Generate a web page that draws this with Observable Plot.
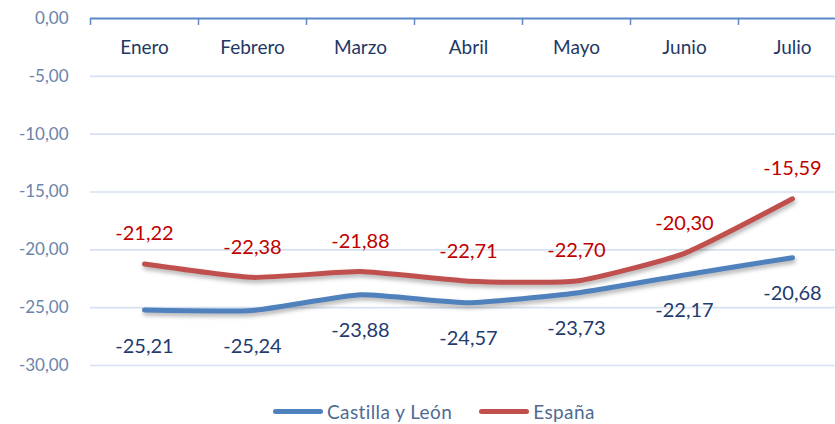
<!DOCTYPE html>
<html>
<head>
<meta charset="utf-8">
<script src="https://cdn.jsdelivr.net/npm/d3@7"></script>
<script src="https://cdn.jsdelivr.net/npm/@observablehq/plot@0.6"></script>
<style>
  html, body { margin: 0; padding: 0; background: #fff; }
  #chart { width: 835px; height: 424px; position: relative; font-family: Lato, "Open Sans", sans-serif; }
  #legend { position: absolute; left: 273px; top: 400px; display: flex; align-items: center; font-size: 19px; color: #4f6b94; font-family: Lato, sans-serif; letter-spacing: 0.4px; }
  .item { display: flex; align-items: center; margin-right: 27px; }
  .sw { width: 50px; height: 5px; border-radius: 3px; margin-right: 4px; }
</style>
</head>
<body>
<div id="chart"></div>
<script>
const months = ["Enero", "Febrero", "Marzo", "Abril", "Mayo", "Junio", "Julio"];
const seriesNames = ["Castilla y León", "España"];
const castilla = [-25.21, -25.24, -23.88, -24.57, -23.73, -22.17, -20.68];
const espana = [-21.22, -22.38, -21.88, -22.71, -22.70, -20.30, -15.59];
const yTicks = [0, -5, -10, -15, -20, -25, -30];
const seriesColors = ["#4f81bd", "#c0504d"];
const labelColors = ["#1f3b6f", "#c00000"];

const fmt = v => v.toFixed(2).replace(".", ",");
const rows = [];
months.forEach((m, i) => {
  rows.push({i, month: m, value: castilla[i], series: seriesNames[0]});
  rows.push({i, month: m, value: espana[i], series: seriesNames[1]});
});
const boundaries = d3.range(months.length + 1).map(k => k - 0.5);

const plot = Plot.plot({
  width: 835,
  height: 395,
  marginLeft: 90,
  marginRight: 0,
  marginTop: 18,
  marginBottom: 30,
  style: {fontFamily: "Lato, 'Open Sans', sans-serif", background: "transparent"},
  x: {type: "linear", domain: [-0.5, months.length - 0.5], range: [90, 846], axis: null},
  y: {domain: [-30, 0], range: [365, 18], axis: null},
  color: {domain: seriesNames, range: seriesColors},
  marks: [
    Plot.ruleY(yTicks.filter(d => d !== 0), {x1: -0.5, x2: months.length - 0.5, stroke: "#d6e2f1", strokeWidth: 1.6}),
    Plot.text(yTicks, {x: -0.5, y: d => d, text: d => fmt(d), textAnchor: "end", dx: -22, fontSize: 17, fill: "#6a84aa", style: "letter-spacing:2.5px"}),
    Plot.ruleY([0], {x1: -0.5, x2: months.length - 0.5, stroke: "#5b87c5", strokeWidth: 2}),
    Plot.ruleX(boundaries, {y1: 0, y2: -0.6, stroke: "#5b87c5", strokeWidth: 1.5}),
    Plot.text(months, {x: (d, i) => i, y: 0, text: d => d, dy: 29, fontSize: 19, fill: "#1f3864"}),
    Plot.line(rows, {x: "i", y: "value", z: "series", stroke: "series", strokeWidth: 5, curve: "cardinal", tension: 0.5, strokeLinecap: "round", strokeLinejoin: "round"}),
    Plot.text(rows.filter(r => r.series === seriesNames[1]), {x: "i", y: "value", text: r => fmt(r.value), dy: -30, fontSize: 20, fill: labelColors[1], style: "letter-spacing:1.5px"}),
    Plot.text(rows.filter(r => r.series === seriesNames[0]), {x: "i", y: "value", text: r => fmt(r.value), dy: 36, fontSize: 20, fill: labelColors[0], style: "letter-spacing:1.5px"})
  ]
});

d3.select(plot).selectAll('g[aria-label="line"] path').style("filter", "drop-shadow(1px 3px 2px rgba(0,0,0,0.3))");
const chart = document.getElementById("chart");
chart.appendChild(plot);

const legend = document.createElement("div");
legend.id = "legend";
seriesNames.forEach((name, k) => {
  const item = document.createElement("div");
  item.className = "item";
  const sw = document.createElement("span");
  sw.className = "sw";
  sw.style.background = seriesColors[k];
  const tx = document.createElement("span");
  tx.textContent = name;
  item.appendChild(sw);
  item.appendChild(tx);
  legend.appendChild(item);
});
chart.appendChild(legend);
</script>
</body>
</html>
